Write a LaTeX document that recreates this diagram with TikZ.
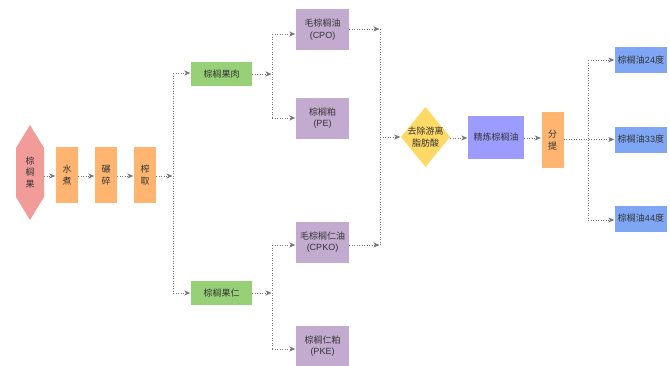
\documentclass[tikz,border=0pt]{standalone}
\usepackage{fontspec}
\setmainfont{Noto Sans CJK SC}
\newfontfamily\latn{Liberation Sans}
\usetikzlibrary{arrows.meta}
\definecolor{cpink}{HTML}{F19C99}
\definecolor{corange}{HTML}{FFB570}
\definecolor{cgreen}{HTML}{97D077}
\definecolor{cpurple}{HTML}{C3ABD0}
\definecolor{cyellow}{HTML}{FFD966}
\definecolor{cperi}{HTML}{9C9CFF}
\definecolor{cblue}{HTML}{7EA6F5}
\definecolor{ctext}{HTML}{333333}
\definecolor{cline}{HTML}{777777}
\tikzset{
  box/.style={rectangle, inner sep=0pt, align=center, text=ctext,
    font=\fontsize{9pt}{11.5pt}\selectfont},
  obox/.style={box, fill=corange, minimum width=22pt, minimum height=56pt},
  gbox/.style={box, fill=cgreen, minimum width=61pt, minimum height=24pt},
  pbox/.style={box, fill=cpurple, minimum width=53pt, minimum height=41pt},
  bbox/.style={box, fill=cblue, minimum width=52pt, minimum height=26pt},
  conn/.style={draw=cline, line width=0.8pt, dash pattern=on 1pt off 1.5pt},
  arr/.style={conn, -{Stealth[length=6pt,width=5pt,inset=1.8pt]}, shorten >=0.5pt},
}
\begin{document}
\begin{tikzpicture}[x=1pt,y=-1pt]
\useasboundingbox[fill=white] (0,0) rectangle (670,365);
% hexagon
\fill[cpink] (30,125) -- (44,148) -- (44,197) -- (30,220) -- (16,197) -- (16,148) -- cycle;
\node[box, minimum width=28pt, minimum height=95pt] (hex) at (30,172.5) {棕\\榈\\果};
% diamond
\fill[cyellow] (425.5,107) -- (450,137) -- (425.5,167) -- (401,137) -- cycle;
\node[box, minimum width=49pt, minimum height=60pt] (dia) at (425.5,137) {去除游离\\脂肪酸};

\node[obox] (w1) at (67,175) {水\\煮};
\node[obox] (w2) at (106,175) {碾\\碎};
\node[obox] (w3) at (145,175) {榨\\取};
\node[gbox] (g1) at (221.5,74) {棕榈果肉};
\node[gbox] (g2) at (221.5,293) {棕榈果仁};
\node[pbox] (p1) at (322.5,29.5) {毛棕榈油\\{\latn (CPO)}};
\node[pbox] (p2) at (322.5,118) {棕榈粕\\{\latn (PE)}};
\node[pbox] (p3) at (322.5,242) {毛棕榈仁油\\{\latn (CPKO)}};
\node[pbox] (p4) at (322.5,346) {棕榈仁粕\\{\latn (PKE)}};
\node[box, fill=cperi, minimum width=56pt, minimum height=43pt] (r) at (496,137.5) {精炼棕榈油};
\node[obox] (f) at (552.5,140) {分\\提};
\node[bbox] (o1) at (641,60) {棕榈油{\latn 24}度};
\node[bbox] (o2) at (641,139.5) {棕榈油{\latn 33}度};
\node[bbox] (o3) at (641,218.5) {棕榈油{\latn 44}度};

\coordinate (s1) at (173,176);
\coordinate (s1t) at (173,73);
\coordinate (s1b) at (173,293);
\coordinate (s2) at (272,74);
\coordinate (s2t) at (272,34);
\coordinate (s2b) at (272,118);
\coordinate (s3) at (272,293);
\coordinate (s3t) at (272,245);
\coordinate (s3b) at (272,349);
\coordinate (m1) at (380,29);
\coordinate (m2) at (380,245);
\coordinate (m0) at (380,137);
\coordinate (s4t) at (588,60);
\coordinate (s4b) at (588,220);

\draw[arr] (hex.east |- 0,176) -- (w1.west |- 0,176);
\draw[arr] (w1.east |- 0,176) -- (w2.west |- 0,176);
\draw[arr] (w2.east |- 0,176) -- (w3.west |- 0,176);
\draw[arr] (w3.east |- s1) -- (s1);
\draw[conn] (s1t) -- (s1b);
\draw[arr] (s1t) -- (g1.west |- s1t);
\draw[arr] (s1b) -- (g2.west |- s1b);
\draw[arr] (g1.east |- s2) -- (s2);
\draw[conn] (s2t) -- (s2b);
\draw[arr] (s2t) -- (p1.west |- s2t);
\draw[arr] (s2b) -- (p2.west |- s2b);
\draw[arr] (g2.east |- s3) -- (s3);
\draw[conn] (s3t) -- (s3b);
\draw[arr] (s3t) -- (p3.west |- s3t);
\draw[arr] (s3b) -- (p4.west |- s3b);
\draw[arr] (p1.east |- m1) -- (m1);
\draw[arr] (p3.east |- m2) -- (m2);
\draw[conn] (m1) -- (m2);
\draw[arr] (m0) -- (dia.west);
\draw[arr] (dia.east |- 0,138) -- (r.west |- 0,138);
\draw[arr] (r.east |- 0,138) -- (f.west |- 0,138);
\draw[arr] (f.east |- 0,139.5) -- (o2.west);
\draw[conn] (s4t) -- (s4b);
\draw[arr] (s4t) -- (o1.west);
\draw[arr] (s4b) -- (o3.west |- s4b);
\end{tikzpicture}
\end{document}
